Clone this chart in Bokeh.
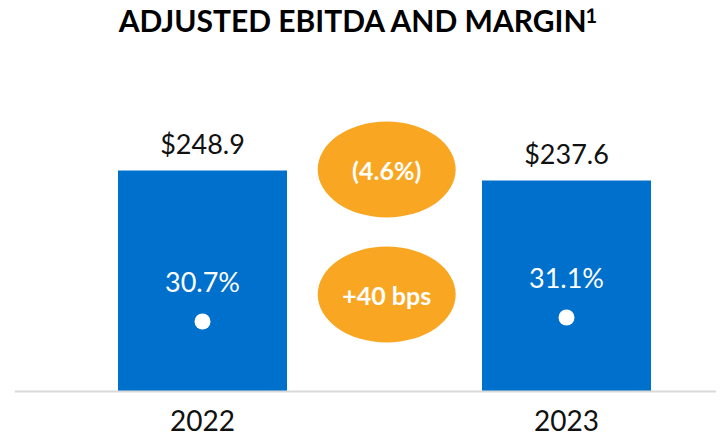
from bokeh.plotting import figure
from bokeh.models import Range1d, Label, Span, ColumnDataSource
from bokeh.core.properties import value
from bokeh.embed import file_html
from bokeh.resources import INLINE

# ---- data ----
years = ["2022", "2023"]
ebitda = [248.9, 237.6]
margin = [30.7, 31.1]
ebitda_labels = ["$248.9", "$237.6"]
margin_labels = ["30.7%", "31.1%"]
change_labels = ["(4.6%)", "+40 bps"]
title_text = "ADJUSTED EBITDA AND MARGIN"
title_note = "1"

# ---- style ----
BLUE = "#0070CD"
ORANGE = "#F9A722"
FONT = "Lato"
FRAME_W, FRAME_H = 702, 430
BASE_PX = 47                  # px from frame bottom to the zero line
PX_PER_UNIT = 0.8879          # pixels per $M
Y_START = -BASE_PX / PX_PER_UNIT
Y_END = (FRAME_H - BASE_PX) / PX_PER_UNIT
M_REF, M_PX = 23.7, 10.0      # margin value at zero line, px per pct point
M_START = M_REF - BASE_PX / M_PX
M_END = M_REF + (FRAME_H - BASE_PX) / M_PX
X_PX = 364                    # px between category centres

xs = list(range(len(years)))
mid = (xs[0] + xs[1]) / 2

def px_to_y(px_from_zero):
    return px_from_zero / PX_PER_UNIT

def px_to_x(page_px):
    return (page_px - 202) / X_PX

p = figure(frame_width=FRAME_W, frame_height=FRAME_H,
           x_range=Range1d(-0.5165, -0.5165 + FRAME_W / X_PX),
           y_range=Range1d(Y_START, Y_END),
           x_axis_location=None, y_axis_location=None,
           output_backend="svg", toolbar_location=None,
           min_border_left=14, min_border_right=0,
           min_border_top=8, min_border_bottom=0,
           outline_line_color=None)
p.extra_y_ranges = {"margin": Range1d(M_START, M_END)}
p.grid.visible = False

src = ColumnDataSource(dict(x=xs, zero=[0] * len(xs), years=years,
                            ebitda=ebitda, margin=margin,
                            el=ebitda_labels, ml=margin_labels))

p.vbar(x="x", top="ebitda", bottom=0, width=169 / X_PX, source=src,
       fill_color=BLUE, line_color=None)

# baseline
p.add_layout(Span(location=0, dimension="width", line_color="#D9D9D9",
                  line_width=2))

# category labels
p.text(x="x", y="zero", text="years", source=src, y_offset=29,
       text_align="center", text_baseline="alphabetic",
       text_font=value(FONT), text_font_size="28px", text_color="#111111")

p.text(x="x", y="ebitda", text="el", source=src, y_offset=-27,
       text_align="center", text_baseline="alphabetic",
       text_font=value(FONT), text_font_size="27px", text_color="#111111")

p.scatter(x="x", y="margin", source=src, y_range_name="margin",
          size=16, fill_color="white", line_color=None)
p.text(x="x", y="margin", text="ml", source=src, y_range_name="margin",
       y_offset=-40, text_align="center", text_baseline="alphabetic",
       text_font=value(FONT), text_font_size="27px", text_color="white")

# change bubbles
ey = [px_to_y(391 - 169), px_to_y(391 - 294)]
esrc = ColumnDataSource(dict(x=[mid + 0.006, mid + 0.006], y=ey, t=change_labels))
p.ellipse(x="x", y="y", width=138, height=96, width_units="screen",
          height_units="screen", source=esrc, fill_color=ORANGE, line_color=None)
p.text(x="x", y="y", text="t", source=esrc, text_align="center",
       text_baseline="middle", text_font=value(FONT), text_font_size="25px",
       text_font_style="bold", text_color="white")

# title with superscript note
p.add_layout(Label(x=px_to_x(588), y=Y_END - px_to_y(11), text=title_text,
                   text_align="right", text_baseline="middle",
                   text_font=FONT, text_font_size="30px",
                   text_font_style="bold", text_color="black"))
p.add_layout(Label(x=px_to_x(585), y=Y_END - px_to_y(7), text=title_note,
                   text_align="left", text_baseline="middle",
                   text_font=FONT, text_font_size="20px",
                   text_font_style="bold", text_color="black"))

open("out.html", "w").write(file_html(p, INLINE))
